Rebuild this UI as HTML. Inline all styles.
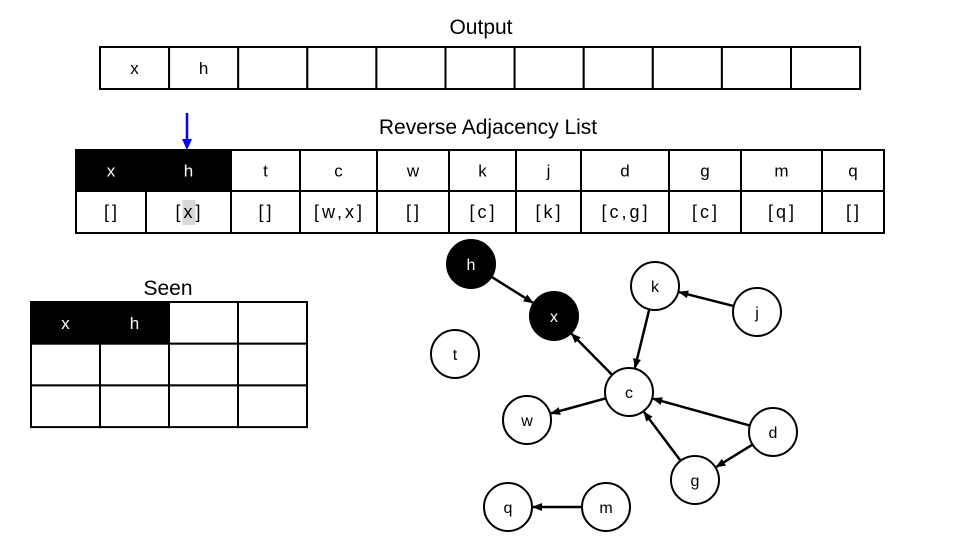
<!DOCTYPE html>
<html><head><meta charset="utf-8"><style>
body{margin:0;background:#fff}
svg{display:block;font-family:"Liberation Sans",sans-serif}
</style></head><body>
<svg id="s" width="960" height="540" viewBox="0 0 960 540">
<defs>
<marker id="ah" markerWidth="10" markerHeight="10" refX="9" refY="5" orient="auto" markerUnits="userSpaceOnUse"><path d="M0,1 L10,5 L0,9 z" fill="#000"/></marker>
</defs>
<text x="481" y="34" font-size="21" text-anchor="middle">Output</text>
<text x="488" y="134" font-size="21" text-anchor="middle">Reverse Adjacency List</text>
<text x="168" y="295" font-size="21" text-anchor="middle">Seen</text>
<line x1="187" y1="113" x2="187" y2="141" stroke="#0000ff" stroke-width="2.5"/>
<path d="M182,139 L187,150 L192,139 z" fill="#0000ff"/>
<g id="g"></g>
</svg>
<script>
const outputVals=['x','h','','','','','','','','',''];
const adjKeys=['x','h','t','c','w','k','j','d','g','m','q'];
const adjVals=['[]','[x]','[]','[w,x]','[]','[c]','[k]','[c,g]','[c]','[q]','[]'];
const adjCols=[76,146,231,300,377,449,516,581,669,741,822,884];
const seenVals=['x','h','','','','','','','','','',''];
const nodes={h:[471,264],x:[554,316],k:[655,286],j:[757,312],t:[455,354],c:[629,392],w:[527,420],d:[773,432],g:[695,480],q:[508,507],m:[606,507]};
const blackNodes=['h','x'];
const edges=[['h','x'],['c','x'],['j','k'],['k','c'],['c','w'],['d','c'],['d','g'],['g','c'],['m','q']];
const NS='http://www.w3.org/2000/svg';
const G=document.getElementById('g');
function mk(t,a,p){const e=document.createElementNS(NS,t);for(const k in a)e.setAttribute(k,a[k]);(p||G).appendChild(e);return e;}
function cell(x,y,w,h,txt,black,name,mono){
 const r=mk('rect',{x:x,y:y,width:w,height:h,fill:black?'#000':'#fff',stroke:'#000','stroke-width':2});
 
 
 if(txt!==''){const t=mk('text',{x:x+w/2,y:y+h/2+6,'font-size':17,'text-anchor':'middle',fill:black?'#fff':'#000','letter-spacing':mono?3:0});t.textContent=txt;
 
 }
}
outputVals.forEach((v,i)=>cell(100+i*69.1,47,69.1,42,v,false,'output-cell'));
adjKeys.forEach((v,i)=>{const x=adjCols[i],w=adjCols[i+1]-x;
 cell(x,150,w,41,v,i<2,'adjacency-key-cell');
 cell(x,191,w,42,'',false,'adjacency-value-cell');
 if(i===1){const hl=mk('rect',{x:x+w/2-6,y:200,width:13,height:25,fill:'#d8d8d8'});
  
  }
 const t=mk('text',{x:x+w/2+1,y:218,'font-size':18,'text-anchor':'middle','letter-spacing':3});t.textContent=adjVals[i];
 
 
});
seenVals.forEach((v,i)=>{const r=Math.floor(i/4),c=i%4;cell(31+c*69,302+r*41.7,69,41.7,v,v!=='','seen-cell');});
const R=24;
edges.forEach(([a,b])=>{const [x1,y1]=nodes[a],[x2,y2]=nodes[b];const dx=x2-x1,dy=y2-y1,L=Math.hypot(dx,dy);
 const l=mk('line',{x1:x1+dx/L*R,y1:y1+dy/L*R,x2:x2-dx/L*(R+1),y2:y2-dy/L*(R+1),stroke:'#000','stroke-width':2.5,'marker-end':'url(#ah)'});
 
 });
for(const k in nodes){const [x,y]=nodes[k];const b=blackNodes.includes(k);
 const c=mk('circle',{cx:x,cy:y,r:R,fill:b?'#000':'#fff',stroke:'#000','stroke-width':2});
 
 
 const t=mk('text',{x:x,y:y+6,'font-size':16,'text-anchor':'middle',fill:b?'#fff':'#000'});t.textContent=k;
 
 }
</script>
</body></html>
